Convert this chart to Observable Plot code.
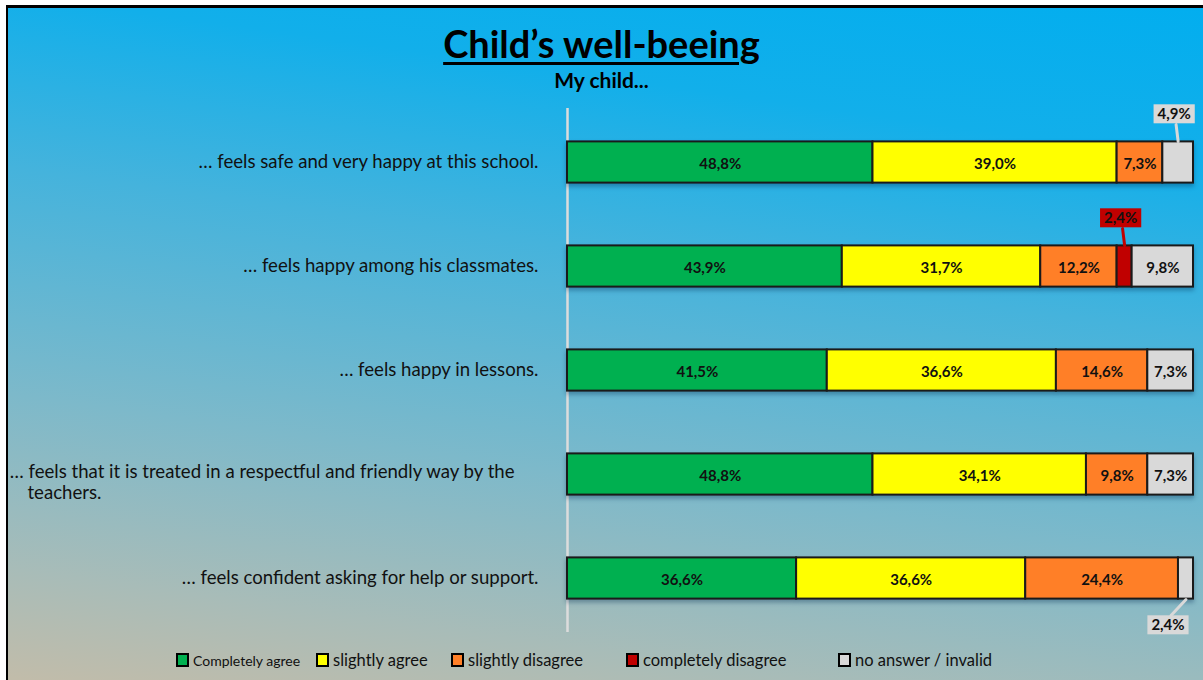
<!DOCTYPE html>
<html><head><meta charset="utf-8">
<script src="https://cdn.jsdelivr.net/npm/d3@7"></script>
<script src="https://cdn.jsdelivr.net/npm/@observablehq/plot@0.6"></script>
<style>
html,body{margin:0;padding:0;background:#fff;width:1203px;height:680px;overflow:hidden;font-family:Lato,"Open Sans",sans-serif;}
#frame{position:absolute;left:6px;top:5px;width:1220px;height:700px;border-left:2px solid #000;border-top:3px solid #000;
  background:linear-gradient(8deg,#C8BCA6 0%,#A8BCB8 16%,#7DB9CA 36%,#45B3DC 62%,#12AFEA 82%,#02AEEF 100%);}
#title{position:absolute;left:0;width:1203px;top:21px;text-align:center;font-weight:700;font-size:38px;line-height:44px;color:#000;
  text-decoration:underline;text-decoration-thickness:3px;text-underline-offset:4px;}
#subtitle{position:absolute;left:0;width:1203px;top:67px;text-align:center;font-weight:700;font-size:21px;line-height:26px;color:#000;}
#chart{position:absolute;left:0;top:100px;}
#legend{position:absolute;left:0;top:649px;width:1203px;height:22px;}
.li{position:absolute;top:0;height:22px;display:flex;align-items:center;color:#111;font-size:16px;white-space:nowrap;}
.sw{width:9px;height:10px;border:2px solid #000;margin-right:4px;}
svg g[aria-label="bar"]{filter:drop-shadow(0px 3px 2px rgba(0,40,80,0.35));}
</style></head>
<body>
<div id="frame"></div>
<div id="title">Child’s well-beeing</div>
<div id="subtitle">My child...</div>
<div id="chart"></div>
<div id="legend"></div>
<script>
const questions = [
  "… feels safe and very happy at this school.",
  "… feels happy among his classmates.",
  "… feels happy in lessons.",
  "… feels that it is treated in a respectful and friendly way by the\nteachers.",
  "… feels confident asking for help or support."
];
const categories = ["Completely agree","slightly agree","slightly disagree","completely disagree","no answer / invalid"];
const colors = ["#00B050","#FFFF00","#FF7F27","#C00000","#D9D9D9"];
const completelyAgree    = [48.8, 43.9, 41.5, 48.8, 36.6];
const slightlyAgree      = [39.0, 31.7, 36.6, 34.1, 36.6];
const slightlyDisagree   = [ 7.3, 12.2, 14.6,  9.8, 24.4];
const completelyDisagree = [ 0.0,  2.4,  0.0,  0.0,  0.0];
const noAnswer           = [ 4.9,  9.8,  7.3,  7.3,  2.4];
const series = [completelyAgree, slightlyAgree, slightlyDisagree, completelyDisagree, noAnswer];

// build stacked table
const table = [];
questions.forEach((q, i) => {
  let acc = 0;
  categories.forEach((c, j) => {
    const v = series[j][i];
    table.push({q, qi: i, cat: c, value: v, x1: acc, x2: acc + v, mid: acc + v / 2});
    acc += v;
  });
});
const fmt = v => v.toFixed(1).replace(".", ",") + "%";
const segs = table.filter(d => d.value > 0);
const inside = table.filter(d => d.value >= 5);
const small = table.filter(d => d.value > 0 && d.value < 5);
const calloutsAbove = small.filter(d => d.qi < questions.length - 1);
const calloutsBelow = small.filter(d => d.qi === questions.length - 1);
const colorOf = c => colors[categories.indexOf(c)];

// y labels
const labelSingle = questions.filter(q => !q.includes("\n")).map(q => ({q, text: q}));
const labelMulti = questions.filter(q => q.includes("\n")).map(q => ({q, l1: q.split("\n")[0], l2: q.split("\n")[1]}));

const line = {draw(ctx, l) { ctx.moveTo(0, 0); ctx.lineTo(0, -l); }};

const plot = Plot.plot({
  width: 1203,
  height: 545,
  marginLeft: 567,
  marginRight: 10,
  marginTop: 8,
  marginBottom: 13,
  style: {background: "transparent", overflow: "visible", fontFamily: "Lato, 'Open Sans', sans-serif"},
  x: {domain: [0, 100], axis: null},
  y: {domain: questions, axis: null, padding: 0},
  color: {domain: categories, range: colors},
  marks: [
    Plot.ruleX([0], {stroke: "#DCDCDC", strokeWidth: 2.5}),
    Plot.barX(segs, {x1: "x1", x2: "x2", y: "q", fill: "cat", stroke: "#1a1a1a", strokeWidth: 2, insetTop: 31.4, insetBottom: 31.4}),
    Plot.text(inside, {x: "mid", y: "q", text: d => fmt(d.value), fontWeight: "bold", fontSize: 15, fill: "#111", dy: 2}),
    // leaders
    Plot.vector(calloutsAbove, {x: "mid", y: "q", length: 17, rotate: -7, anchor: "start", dy: -21, stroke: d => d.cat, strokeWidth: 3, shape: line}),
    Plot.vector(calloutsBelow, {x: "mid", y: "q", length: 22, rotate: 223, anchor: "start", dy: 21, stroke: "#D9D9D9", strokeWidth: 3, shape: line}),
    // callout labels
    Plot.text(calloutsAbove, {x: "mid", y: "q", text: d => fmt(d.value), fontWeight: "bold", fontSize: 15, fill: "#111", dy: -48, dx: -4, className: "callout-a"}),
    Plot.text(calloutsBelow, {x: "mid", y: "q", text: d => fmt(d.value), fontWeight: "bold", fontSize: 15, fill: "#111", dy: 47, dx: -18, className: "callout-b"}),
    // category labels
    Plot.text(labelSingle, {y: "q", text: "text", frameAnchor: "left", textAnchor: "end", dx: -29, fontSize: 18.6, fill: "#111"}),
    Plot.text(labelMulti, {y: "q", text: "l1", frameAnchor: "left", textAnchor: "end", dx: -53, dy: -2, fontSize: 18.6, fill: "#111"}),
    Plot.text(labelMulti, {y: "q", text: "l2", frameAnchor: "left", textAnchor: "start", dx: -540, dy: 19, fontSize: 18.6, fill: "#111"})
  ]
});
document.getElementById("chart").appendChild(plot);

// boxes behind callout labels
[["callout-a", calloutsAbove], ["callout-b", calloutsBelow]].forEach(([cls, data]) => {
  const g = plot.querySelector("g." + cls);
  if (!g) return;
  const texts = g.querySelectorAll("text");
  texts.forEach((t, k) => {
    const b = t.getBBox();
    const r = document.createElementNS("http://www.w3.org/2000/svg", "rect");
    r.setAttribute("x", b.x - 4); r.setAttribute("y", b.y);
    r.setAttribute("width", b.width + 8); r.setAttribute("height", b.height + 1);
    r.setAttribute("fill", colorOf(data[k].cat));
    const tr = t.getAttribute("transform");
    if (tr) r.setAttribute("transform", tr);
    t.parentNode.insertBefore(r, t);
  });
});

// legend
const legendLeft = [176, 316, 451, 626, 838];
const legendSize = [14, 16.5, 16.5, 16.5, 16.5];
const leg = document.getElementById("legend");
categories.forEach((c, j) => {
  const it = document.createElement("div");
  it.className = "li";
  it.style.left = legendLeft[j] + "px";
  it.style.fontSize = legendSize[j] + "px";
  const sw = document.createElement("div");
  sw.className = "sw";
  sw.style.background = colors[j];
  it.appendChild(sw);
  it.appendChild(document.createTextNode(c));
  leg.appendChild(it);
});
</script>
</body></html>
